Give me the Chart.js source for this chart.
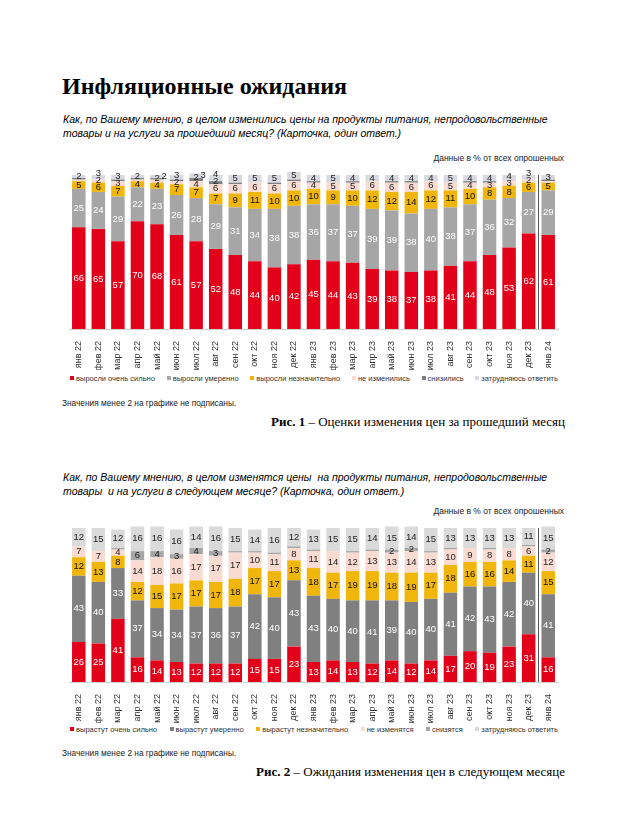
<!DOCTYPE html>
<html>
<head>
<meta charset="utf-8">
<script src="https://cdn.jsdelivr.net/npm/chart.js@4.4.1/dist/chart.umd.min.js"></script>
<style>
  body { margin: 0; width: 634px; height: 823px; position: relative; background: #fff; color: #000;
         font-family: "Liberation Sans", Arial, sans-serif; overflow: hidden; }
  .abs { position: absolute; white-space: nowrap; }
  h1 { position: absolute; left: 62px; top: 74px; margin: 0; font: bold 24px/24px "Liberation Serif", "Times New Roman", serif; }
  .q { left: 63px; font-style: italic; font-size: 10.5px; line-height: 14px; }
  .src { right: 70px; font-size: 8.5px; line-height: 10px; color: #222; }
  .note { left: 62px; font-size: 8.3px; line-height: 10px; color: #222; }
  .cap { right: 69px; font: 13px/14px "Liberation Serif", "Times New Roman", serif; }
  .leg { position: absolute; left: 70px; width: 488px; display: flex; justify-content: space-between;
         font-size: 7.5px; line-height: 9px; color: #333; }
  .leg span i { display: inline-block; width: 4px; height: 4px; margin-right: 2px; vertical-align: 1px; }
  canvas { position: absolute; left: 0; }
</style>
</head>
<body>
<h1>Инфляционные ожидания</h1>
<div class="abs q" style="top:112px">Как, по Вашему мнению, в целом изменились цены на продукты питания, непродовольственные<br>товары и на услуги за прошедший месяц? (Карточка, один ответ.)</div>
<div class="abs src" style="top:153px">Данные в % от всех опрошенных</div>
<canvas id="past" width="634" height="205" style="top:165px"></canvas>
<div class="leg" id="legPast" style="top:374px"></div>
<div class="abs note" style="top:398px">Значения менее 2 на графике не подписаны.</div>
<div class="abs cap" style="top:415px"><b>Рис. 1</b> – Оценки изменения цен за прошедший месяц</div>

<div class="abs q" style="top:470px">Как, по Вашему мнению, в целом изменятся цены&nbsp; на продукты питания, непродовольственные<br>товары&nbsp; и на услуги в следующем месяце? (Карточка, один ответ.)</div>
<div class="abs src" style="top:506px">Данные в % от всех опрошенных</div>
<canvas id="next" width="634" height="205" style="top:518px"></canvas>
<div class="leg" id="legNext" style="top:725px"></div>
<div class="abs note" style="top:748px">Значения менее 2 на графике не подписаны.</div>
<div class="abs cap" style="top:765px"><b>Рис. 2</b> – Ожидания изменения цен в следующем месяце</div>

<script>
var months = ['янв 22','фев 22','мар 22','апр 22','май 22','июн 22','июл 22','авг 22','сен 22','окт 22','ноя 22','дек 22',
              'янв 23','фев 23','мар 23','апр 23','май 23','июн 23','июл 23','авг 23','сен 23','окт 23','ноя 23','дек 23','янв 24'];

// Рис. 1 - за прошедший месяц
var pastStrong   = [66,65,57,70,68,61,57,52,48,44,40,42,45,44,43,39,38,37,38,41,44,48,53,62,61];
var pastModerate = [25,24,29,22,23,26,28,29,31,34,38,38,36,37,37,39,39,38,40,38,37,36,32,27,29];
var pastSlight   = [5,6,7,4,4,7,7,7,9,11,10,10,10,9,10,12,12,14,12,11,10,8,8,6,5];
var pastSame     = [1,2,3,1,2,2,4,6,6,6,6,6,4,5,5,6,6,6,6,5,4,3,3,2,1];
var pastDown     = [1,0,1,1,1,1,2,2,1,0,1,1,1,0,1,0,1,1,0,0,1,1,0,0,1];
var pastDK       = [2,3,3,2,2,3,3,4,5,5,5,5,4,5,4,4,4,4,4,5,4,4,4,3,3];

// Рис. 2 - в следующем месяце
var nextStrong   = [26,25,41,16,14,13,12,12,12,15,15,23,13,14,13,12,14,12,14,17,20,19,23,31,16];
var nextModerate = [43,40,33,37,34,34,37,36,37,42,40,43,43,40,40,41,39,40,40,41,42,43,42,40,41];
var nextSlight   = [12,13,8,12,15,17,17,17,18,17,17,13,18,17,19,19,18,19,17,18,16,16,14,11,15];
var nextSame     = [7,7,4,14,18,16,17,17,17,10,11,8,11,14,12,13,13,14,13,10,9,8,8,6,12];
var nextDown     = [0,0,1,6,4,3,4,3,1,1,1,1,1,0,1,1,2,2,1,1,0,1,0,1,2];
var nextDK       = [12,15,12,16,16,16,14,16,15,14,16,12,13,15,15,14,15,14,15,13,13,13,13,11,15];

var RED = '#e2001a', YEL = '#f1b60b', PINK = '#f9dbd2';

// labels inside segments, values below 2 are skipped
var segLabels = {
    id: 'segLabels',
    afterDatasetsDraw: function(chart) {
        var ctx = chart.ctx;
        var top = chart.chartArea.top;
        ctx.save();
        ctx.font = '9.5px "Liberation Sans", Arial, sans-serif';
        ctx.textAlign = 'center';
        ctx.textBaseline = 'middle';
        for (var i = 0; i < chart.data.labels.length; i++) {
            var lastY = null;
            chart.data.datasets.forEach(function(ds, d) {
                var v = ds.data[i];
                if (v < 2) return;
                var bar = chart.getDatasetMeta(d).data[i];
                var x = bar.x;
                var y = (bar.y + bar.base) / 2;
                if (lastY !== null && lastY - y < 7) {
                    if (lastY - 7 >= top - 3) {
                        y = lastY - 7;
                    } else {
                        x += 7;
                        ctx.fillStyle = ds.labelColor;
                        ctx.fillText(v, x, y);
                        return;
                    }
                }
                ctx.fillStyle = ds.labelColor;
                ctx.fillText(v, x, y);
                lastY = y;
            });
        }
        ctx.restore();
    }
};

// thin line between дек 23 and янв 24
var yearSep = {
    id: 'yearSep',
    afterDatasetsDraw: function(chart) {
        var xs = chart.scales.x;
        var px = Math.round((xs.getPixelForValue(23) + xs.getPixelForValue(24)) / 2) + 0.5;
        var ctx = chart.ctx;
        ctx.save();
        ctx.strokeStyle = '#555';
        ctx.lineWidth = 1;
        ctx.beginPath();
        ctx.moveTo(px, chart.chartArea.top);
        ctx.lineTo(px, chart.chartArea.bottom);
        ctx.stroke();
        ctx.restore();
    }
};

function makeChart(id, legId, series) {
    var datasets = series.map(function(s) {
        return { label: s[0], data: s[1], backgroundColor: s[2], labelColor: s[3],
                 barPercentage: 0.69, categoryPercentage: 1, clip: false };
    });
    var chart = new Chart(document.getElementById(id), {
        type: 'bar',
        data: { labels: months, datasets: datasets },
        options: {
            responsive: false,
            animation: false,
            layout: { padding: { top: 10, left: 69, right: 76, bottom: 0 } },
            plugins: { legend: { display: false }, tooltip: { enabled: false } },
            scales: {
                x: {
                    stacked: true,
                    grid: { display: false },
                    border: { color: '#d0d0d0' },
                    ticks: { maxRotation: 90, minRotation: 90, autoSkip: false, padding: 4,
                             color: '#333', font: { size: 9, family: '"Liberation Sans", Arial' } },
                    afterFit: function(scale) { scale.height = 41; }
                },
                y: { stacked: true, display: false, min: 0, max: 100 }
            }
        },
        plugins: [segLabels, yearSep]
    });
    var leg = document.getElementById(legId);
    chart.data.datasets.forEach(function(ds) {
        var sp = document.createElement('span');
        sp.innerHTML = '<i style="background:' + ds.backgroundColor + '"></i>' + ds.label;
        leg.appendChild(sp);
    });
    return chart;
}

makeChart('past', 'legPast', [
    ['выросли очень сильно', pastStrong, RED, '#fff'],
    ['выросли умеренно', pastModerate, '#a6a6a6', '#fff'],
    ['выросли незначительно', pastSlight, YEL, '#111'],
    ['не изменились', pastSame, PINK, '#222'],
    ['снизились', pastDown, '#7f7f7f', '#222'],
    ['затрудняюсь ответить', pastDK, '#d8d9e1', '#222']
]);

makeChart('next', 'legNext', [
    ['вырастут очень сильно', nextStrong, RED, '#fff'],
    ['вырастут умеренно', nextModerate, '#808080', '#fff'],
    ['вырастут незначительно', nextSlight, YEL, '#111'],
    ['не изменятся', nextSame, PINK, '#222'],
    ['снизятся', nextDown, '#a6a6a6', '#222'],
    ['затрудняюсь ответить', nextDK, '#dadada', '#222']
]);
</script>
</body>
</html>
